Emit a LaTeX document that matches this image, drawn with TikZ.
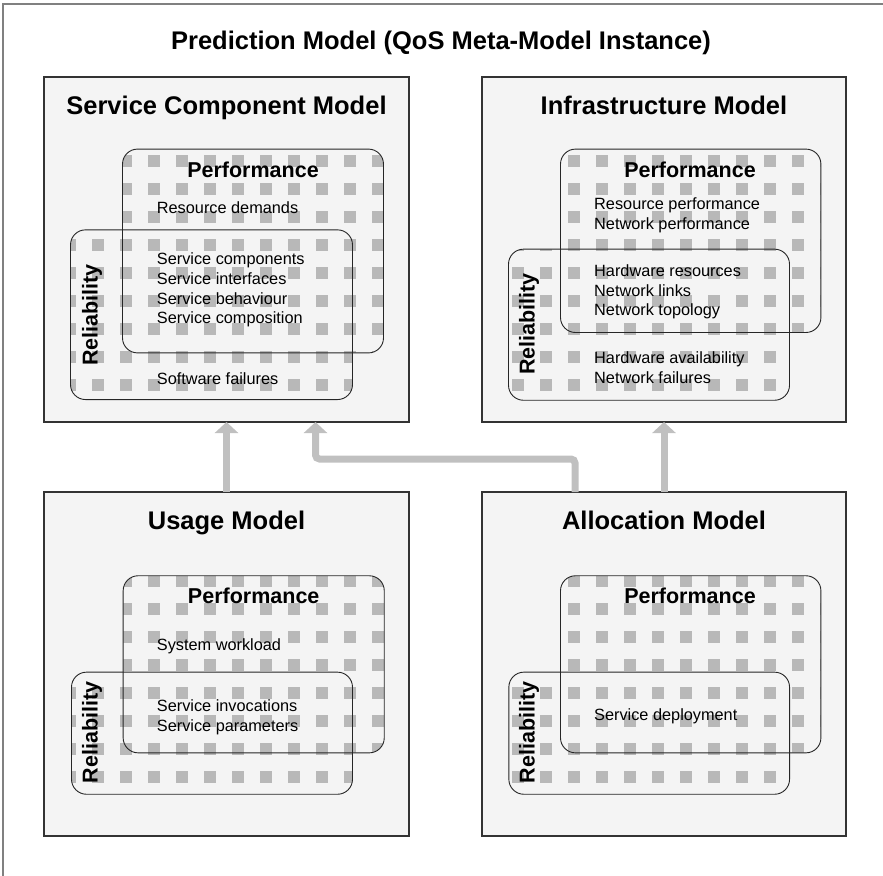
\documentclass[tikz,border=0pt]{standalone}
\usepackage{fontspec}
\setmainfont{Liberation Sans}
\usetikzlibrary{arrows.meta,patterns}
\definecolor{boxgrey}{HTML}{F4F4F4}
\definecolor{flowgrey}{HTML}{C0C0C0}
\definecolor{framegrey}{HTML}{808080}
\pgfdeclarepatternformonly{qosblocks}{\pgfqpoint{-1pt}{-1pt}}{\pgfqpoint{29pt}{29pt}}{\pgfqpoint{28pt}{28pt}}%
  {\pgfpathrectangle{\pgfqpoint{8pt}{8pt}}{\pgfqpoint{12pt}{12pt}}\pgfusepath{fill}}

\begin{document}
\begin{tikzpicture}[x=1pt,y=-1pt,
        mdl/.style={draw=black!80,line width=1.1pt,fill=boxgrey,outer sep=0pt,inner sep=0pt},
        patch/.style={pattern=qosblocks,pattern color=black!28,rounded corners=15pt,inner sep=0pt},
        rim/.style={draw=black!85,line width=0.9pt,rounded corners=15pt},
        hd/.style={font=\fontsize{25.5}{30}\selectfont\bfseries,anchor=base},
        sub/.style={font=\fontsize{21.5}{26}\selectfont\bfseries,inner sep=0pt},
        lst/.style={font=\fontsize{16.3}{19.7}\selectfont,align=left,anchor=west,inner sep=0pt},
        fl/.style={-{Triangle[width=23pt,length=11pt]},draw=flowgrey,line width=7pt,rounded corners=4pt}]
      \useasboundingbox (0,0) rectangle (883,875);
      \draw[framegrey,line width=1.2pt] (3,4) rectangle (900,900);
      \node[hd] (ttl) at (441,50) {Prediction Model (QoS Meta-Model Instance)};

      \node[mdl,minimum width=365,minimum height=345] (scm) at (226.5,249.5) {};
      \node[mdl,minimum width=364,minimum height=345] (infra) at (664,249.5) {};
      \node[mdl,minimum width=365,minimum height=344] (use) at (226.5,664) {};
      \node[mdl,minimum width=364,minimum height=344] (alloc) at (664,664) {};

      \node[patch,minimum width=260.6,minimum height=203.4] (scmP) at (253,251) {};
      \node[patch,minimum width=281.6,minimum height=169.3] (scmR) at (211.5,314.7) {};
      \node[patch,minimum width=260,minimum height=183] (infraP) at (690.7,240.8) {};
      \node[patch,minimum width=280.6,minimum height=150.7] (infraR) at (649,324.7) {};
      \node[patch,minimum width=260.7,minimum height=176.7] (useP) at (253.7,664.3) {};
      \node[patch,minimum width=280.6,minimum height=121.7] (useR) at (212,733.2) {};
      \node[patch,minimum width=260,minimum height=176.7] (allocP) at (690.7,664.3) {};
      \node[patch,minimum width=280.3,minimum height=121.7] (allocR) at (649.2,733.2) {};
      \foreach \b in {scmP,scmR,infraP,infraR,useP,useR,allocP,allocR}
        \draw[rim] (\b.north west) rectangle (\b.south east);

      \node[hd] (scmT) at (226.5,114.5) {Service Component Model};
      \node[hd] (infraT) at (664,114.5) {Infrastructure Model};
      \node[hd] (useT) at (226.5,529) {Usage Model};
      \node[hd] (allocT) at (664,529) {Allocation Model};

      \node[sub,anchor=base] (scmPT) at (253,177) {Performance};
      \node[sub,anchor=base] (infraPT) at (690,177) {Performance};
      \node[sub,anchor=base] (usePT) at (253.7,603.5) {Performance};
      \node[sub,anchor=base] (allocPT) at (690,603.5) {Performance};
      \node[sub,rotate=90] (scmRT) at (92,315) {Reliability};
      \node[sub,rotate=90] (infraRT) at (529,324) {Reliability};
      \node[sub,rotate=90] (useRT) at (92,732.5) {Reliability};
      \node[sub,rotate=90] (allocRT) at (529,732.5) {Reliability};

      \node[lst] (scm1) at (156.7,207.5) {Resource demands};
      \node[lst] (scm2) at (156.7,290) {Service components\\Service interfaces\\Service behaviour\\Service composition};
      \node[lst] (scm3) at (156.7,378.5) {Software failures};
      \node[lst] (infra1) at (594,215.5) {Resource performance\\Network performance};
      \node[lst] (infra2) at (594,292) {Hardware resources\\Network links\\Network topology};
      \node[lst] (infra3) at (594,367.5) {Hardware availability\\Network failures};
      \node[lst] (use1) at (156.7,646.5) {System workload};
      \node[lst] (use2) at (156.7,717) {Service invocations\\Service parameters};
      \node[lst] (alloc1) at (594,716.5) {Service deployment};

      \coordinate (kneeR) at (575,459);
      \coordinate (kneeL) at (315.5,459);
      \draw[fl] (use) -- (scm);
      \draw[fl] (alloc) -- (infra);
      \draw[fl] (alloc.north -| kneeR) -- (kneeR) -- (kneeL) -- (scm.south -| kneeL);
    \end{tikzpicture}
\end{document}
